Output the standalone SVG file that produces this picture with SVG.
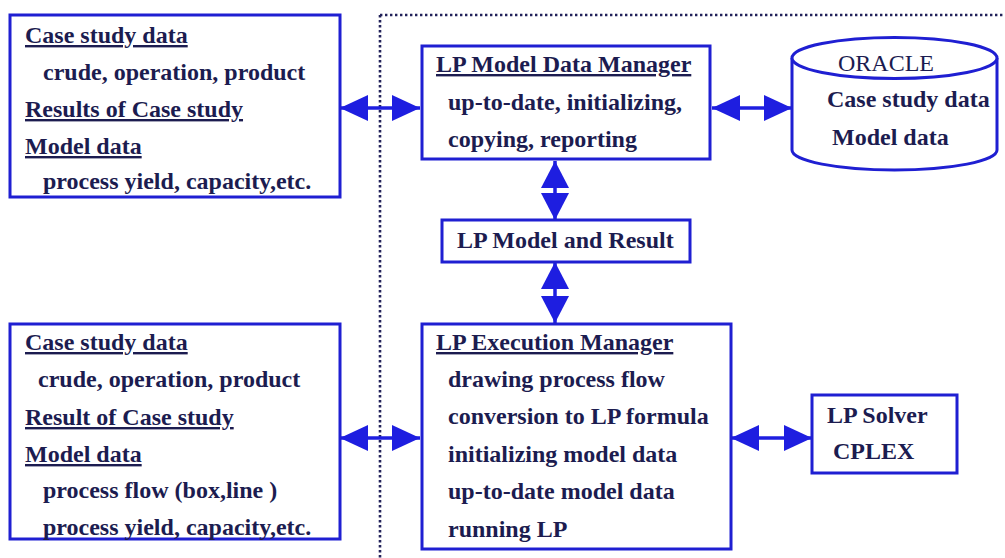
<svg xmlns="http://www.w3.org/2000/svg" width="1005" height="558" viewBox="0 0 1005 558">
<style>
.box{fill:#fff;stroke:#1f1fd2;stroke-width:3}
.t{font-family:"Liberation Serif","Times New Roman",serif;font-size:24px;font-weight:bold;fill:#1c1c50}
.u{text-decoration:underline}
.n{font-weight:normal}
.dot{fill:none;stroke:#22225a;stroke-width:2.6;stroke-dasharray:2.4 2.6}
.ar{fill:none;stroke:#1e1ee0;stroke-width:3.5;marker-start:url(#h);marker-end:url(#h)}
.arv{fill:none;stroke:#1e1ee0;stroke-width:3.5;marker-start:url(#hv);marker-end:url(#hv)}
</style>
<defs>
<marker id="h" viewBox="0 0 28 26" refX="28" refY="13" markerWidth="28" markerHeight="26" markerUnits="userSpaceOnUse" orient="auto-start-reverse"><path d="M0,0 L28,13 L0,26 z" fill="#1e1ee0"/></marker>
<marker id="hv" viewBox="0 0 27 28" refX="27" refY="14" markerWidth="27" markerHeight="28" markerUnits="userSpaceOnUse" orient="auto-start-reverse"><path d="M0,0 L27,14 L0,28 z" fill="#1e1ee0"/></marker>
</defs>
<rect width="1005" height="558" fill="#fff"/>
<g id="boundary">
<path class="dot" d="M380,15 V558"/>
<path class="dot" d="M380,15 H1003"/>
</g>
<g id="connectors">
<path class="ar" d="M340,108 H420"/>
<path class="ar" d="M712,108 H792"/>
<path class="arv" d="M555,161 V220"/>
<path class="arv" d="M555,262 V323"/>
<path class="ar" d="M340,438 H420"/>
<path class="ar" d="M731,438 H812"/>
</g>
<g id="top-left">
<rect class="box" x="10" y="15" width="330" height="182"/>
<text class="t u" x="25" y="43">Case study data</text>
<text class="t" x="43" y="80">crude, operation, product</text>
<text class="t u" x="25" y="117">Results of Case study</text>
<text class="t u" x="25" y="154">Model data</text>
<text class="t" x="43" y="189">process yield, capacity,etc.</text>
</g>
<g id="data-manager">
<rect class="box" x="422" y="46" width="288" height="113"/>
<text class="t u" x="436" y="72">LP Model Data Manager</text>
<text class="t" x="448" y="110">up-to-date, initializing,</text>
<text class="t" x="448" y="147">copying, reporting</text>
</g>
<g id="oracle">
<path class="box" d="M792,58 V150 A102.5,20 0 0 0 997,150 V58"/>
<ellipse class="box" cx="894.5" cy="58" rx="102.5" ry="20.5"/>
<text class="t n" x="838" y="71">ORACLE</text>
<text class="t" x="827" y="107">Case study data</text>
<text class="t" x="832" y="145">Model data</text>
</g>
<g id="model-result">
<rect class="box" x="442" y="220" width="248" height="42"/>
<text class="t" x="457" y="248">LP Model and Result</text>
</g>
<g id="bottom-left">
<rect class="box" x="10" y="324" width="330" height="215"/>
<text class="t u" x="25" y="350">Case study data</text>
<text class="t" x="38" y="387">crude, operation, product</text>
<text class="t u" x="25" y="425">Result of Case study</text>
<text class="t u" x="25" y="462">Model data</text>
<text class="t" x="43" y="498">process flow (box,line )</text>
<text class="t" x="43" y="535">process yield, capacity,etc.</text>
</g>
<g id="execution-manager">
<rect class="box" x="422" y="324" width="309" height="225"/>
<text class="t u" x="436" y="350">LP Execution Manager</text>
<text class="t" x="448" y="387">drawing process flow</text>
<text class="t" x="448" y="424">conversion to LP formula</text>
<text class="t" x="448" y="462">initializing model data</text>
<text class="t" x="448" y="499">up-to-date model data</text>
<text class="t" x="448" y="537">running LP</text>
</g>
<g id="solver">
<rect class="box" x="812" y="395" width="145" height="78"/>
<text class="t" x="827" y="423">LP Solver</text>
<text class="t" x="833" y="459">CPLEX</text>
</g>
</svg>
